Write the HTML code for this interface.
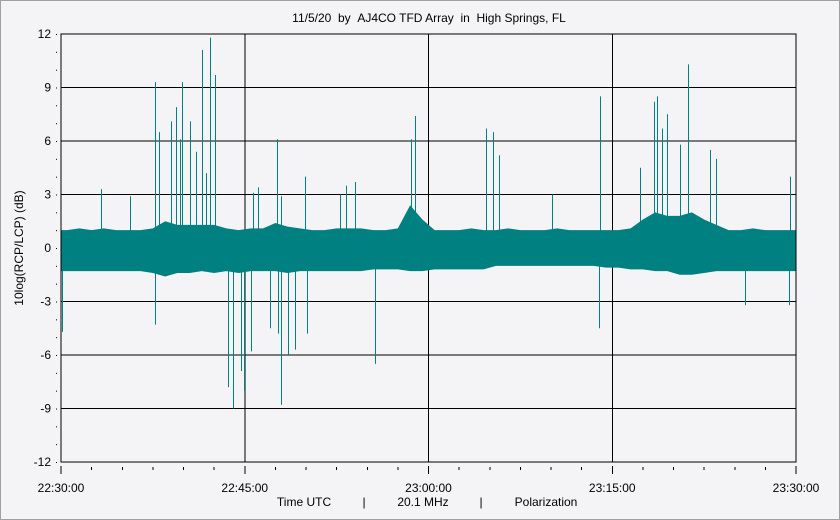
<!DOCTYPE html>
<html><head><meta charset="utf-8"><style>
html,body{margin:0;padding:0;background:#f4f4f6;}
svg{display:block;font-family:"Liberation Sans",sans-serif;}
</style></head><body>
<svg id="chart" width="840" height="520" viewBox="0 0 840 520">
<rect x="0.5" y="0.5" width="839" height="519" fill="#f4f4f6" stroke="#a0a0a0"/>
<text x="429" y="22" text-anchor="middle" font-size="12" fill="#000">11/5/20&#160;&#160;by&#160;&#160;AJ4CO TFD Array&#160;&#160;in&#160;&#160;High Springs, FL</text>
<text transform="translate(23,248) rotate(-90)" text-anchor="middle" font-size="12" fill="#000">10log(RCP/LCP) (dB)</text>
<g font-size="12" fill="#000">
<text x="304" y="506" text-anchor="middle">Time UTC</text>
<text x="364" y="506" text-anchor="middle">|</text>
<text x="423" y="506" text-anchor="middle">20.1 MHz</text>
<text x="481" y="506" text-anchor="middle">|</text>
<text x="546" y="506" text-anchor="middle">Polarization</text>
</g>
<g id="grid"></g>
<g id="series"></g>
<g id="axes"></g>
</svg>
<script>
const yTicks=[12,9,6,3,0,-3,-6,-9,-12];
const xTickLabels=["22:30:00","22:45:00","23:00:00","23:15:00","23:30:00"];
const xTickMinutes=[0,15,30,45,60];
const bandUpper=[1.0,1.1,1.0,1.1,1.0,1.0,1.0,1.1,1.5,1.3,1.3,1.3,1.3,1.1,1.0,1.1,1.1,1.4,1.2,1.1,1.0,1.0,1.1,1.1,1.1,1.0,1.0,1.1,2.4,1.6,1.0,1.0,1.0,1.1,1.0,1.0,1.1,1.0,1.0,1.0,1.1,1.0,1.0,1.0,1.0,1.0,1.1,1.6,2.0,1.8,1.8,2.0,1.6,1.3,1.0,1.0,1.1,1.0,1.0,1.0];
const bandLower=[-1.3,-1.3,-1.3,-1.3,-1.3,-1.3,-1.3,-1.4,-1.6,-1.4,-1.4,-1.3,-1.4,-1.3,-1.4,-1.3,-1.3,-1.3,-1.4,-1.3,-1.3,-1.3,-1.3,-1.3,-1.3,-1.2,-1.2,-1.2,-1.3,-1.3,-1.2,-1.2,-1.2,-1.2,-1.2,-1.0,-1.0,-1.0,-1.0,-1.0,-1.0,-1.0,-1.0,-1.0,-1.1,-1.1,-1.2,-1.2,-1.3,-1.3,-1.5,-1.5,-1.4,-1.3,-1.3,-1.3,-1.3,-1.3,-1.3,-1.3];
const spikeUpTimes=[3.27,5.63,7.67,8.0,8.98,9.39,9.71,9.88,10.53,11.02,11.51,11.84,12.16,12.57,15.67,16.08,17.63,17.96,19.92,22.78,23.27,24.0,28.57,28.9,34.69,35.27,35.76,40.08,44.0,47.27,48.41,48.65,49.06,49.47,50.53,51.18,52.98,53.47,59.51];
const spikeUpValues=[3.3,2.9,9.3,6.5,7.1,7.9,6.1,9.3,7.1,5.4,11.1,4.2,11.8,9.7,3.1,3.4,6.1,2.9,4.0,3.0,3.5,3.7,6.1,7.4,6.7,6.5,5.2,3.0,8.5,4.5,8.2,8.5,6.7,7.5,5.8,10.3,5.5,5.0,4.0];
const spikeDownTimes=[0.08,7.67,13.63,14.04,14.69,14.94,15.51,17.06,17.71,17.96,18.53,19.1,20.08,25.63,43.92,55.84,59.43];
const spikeDownValues=[-4.7,-4.3,-7.8,-9.0,-6.9,-8.0,-5.8,-4.5,-4.8,-8.8,-6.0,-5.7,-4.8,-6.5,-4.5,-3.2,-3.2];

const NS="http://www.w3.org/2000/svg";
const L=61,R=796,T=34,B=462;
const xs=m=>L+(m/60)*(R-L);
const ys=v=>T+(12-v)/24*(B-T);
function mk(tag,attrs,parent){const e=document.createElementNS(NS,tag);for(const k in attrs)e.setAttribute(k,attrs[k]);parent.appendChild(e);return e;}
const grid=document.getElementById('grid'),ser=document.getElementById('series'),ax=document.getElementById('axes');

yTicks.forEach(v=>{
  if(v!==12&&v!==-12){const g=mk('line',{x1:L,x2:R,y1:ys(v),y2:ys(v),stroke:'#000','stroke-width':1,'shape-rendering':'crispEdges'},grid);
  
  }
  const t=mk('text',{x:L-10,y:ys(v)+4,'text-anchor':'end','font-size':12,fill:'#000'},ax);t.textContent=v;
  
  
});
for(let v=-12;v<=12;v++){mk('rect',{x:L-5,y:ys(v),width:1,height:1,fill:'#000'},ax);}
xTickMinutes.forEach((m,i)=>{
  if(i>0&&i<4){const g=mk('line',{x1:xs(m),x2:xs(m),y1:T,y2:B,stroke:'#000','stroke-width':1,'shape-rendering':'crispEdges'},grid);
  
  }
  mk('line',{x1:xs(m),x2:xs(m),y1:B+4,y2:B+12,stroke:'#000','shape-rendering':'crispEdges'},ax);
  const t=mk('text',{x:xs(m),y:492,'text-anchor':'middle','font-size':12,fill:'#000'},ax);t.textContent=xTickLabels[i];
  
  
});
for(let m=2.5;m<60;m+=2.5){if(m%15)mk('line',{x1:xs(m),x2:xs(m),y1:B+5,y2:B+8,stroke:'#000','shape-rendering':'crispEdges'},ax);}
const frame=mk('rect',{x:L,y:T,width:R-L,height:B-T,fill:'none',stroke:'#000','shape-rendering':'crispEdges'},ax);



let pts=[xs(0)+','+ys(bandUpper[0])];
bandUpper.forEach((v,i)=>{pts.push(xs(i+0.5)+','+ys(v));});
pts.push(xs(60)+','+ys(bandUpper[59]));
pts.push(xs(60)+','+ys(bandLower[59]));
for(let i=bandLower.length-1;i>=0;i--){pts.push(xs(i+0.5)+','+ys(bandLower[i]));}
pts.push(xs(0)+','+ys(bandLower[0]));
const band=mk('polygon',{points:pts.join(' '),fill:'#008080'},ser);


spikeUpTimes.forEach((m,i)=>{
  const s=mk('line',{x1:Math.round(xs(m))+0.5,x2:Math.round(xs(m))+0.5,y1:ys(0.5),y2:ys(spikeUpValues[i]),stroke:'#008080','stroke-width':1},ser);
  
  
});
spikeDownTimes.forEach((m,i)=>{
  const s=mk('line',{x1:Math.round(xs(m))+0.5,x2:Math.round(xs(m))+0.5,y1:ys(-0.5),y2:ys(spikeDownValues[i]),stroke:'#008080','stroke-width':1},ser);
  
  
});
</script>
</body></html>
